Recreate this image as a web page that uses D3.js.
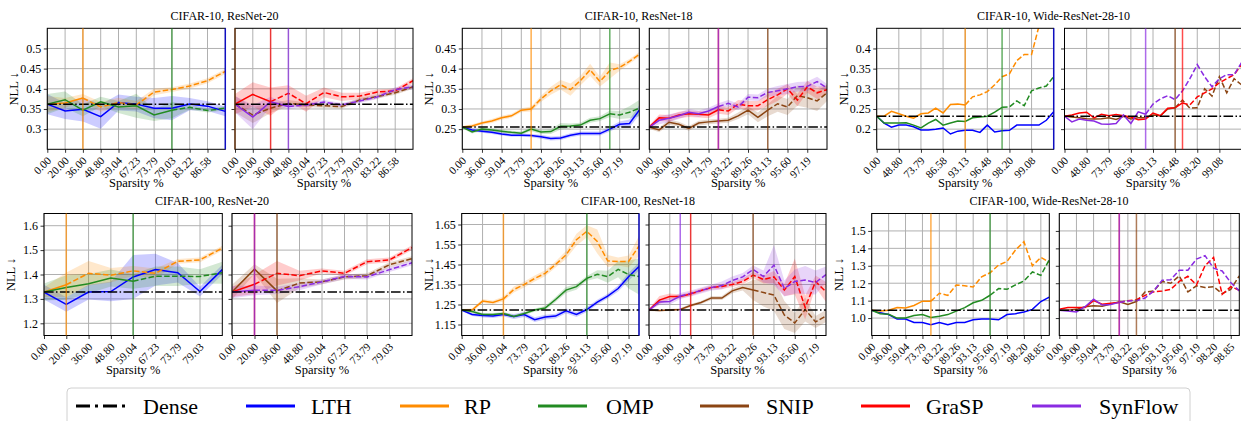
<!DOCTYPE html>
<html>
<head>
<meta charset="utf-8">
<script src="https://cdn.jsdelivr.net/npm/d3@7"></script>
<style>
  body { margin: 0; background: #fff; }
  svg text { font-family: "Liberation Serif", "DejaVu Serif", serif !important; fill: #000; }
</style>
</head>
<body>
<div id="chart"></div>
<script>
/* methods */
var methods = ["LTH", "RP", "OMP", "SNIP", "GraSP", "SynFlow"];
var colors = {LTH: "#0000ff", RP: "#ff8c00", OMP: "#228b22", SNIP: "#8b4513", GraSP: "#ff0000", SynFlow: "#8a2be2"};

/* CIFAR-10, ResNet-20 */
var c10r20Ticks = ["0.00","20.00","36.00","48.80","59.04","67.23","73.79","79.03","83.22","86.58"];
var c10r20Dense = 0.362;
var c10r20LTH     = [0.362,0.345,0.349,0.331,0.366,0.362,0.352,0.352,0.362,0.357,0.344];
var c10r20LTHsd   = [0.025,0.02,0.03,0.03,0.02,0.018,0.025,0.03,0.015,0.012,0.012];
var c10r20RP      = [0.362,0.365,0.377,0.355,0.366,0.36,0.392,0.398,0.407,0.42,0.443];
var c10r20RPsd    = [0.02,0.012,0.01,0.012,0.012,0.01,0.008,0.006,0.006,0.006,0.006];
var c10r20OMP     = [0.362,0.373,0.347,0.368,0.355,0.358,0.335,0.347,0.354,0.346,0.352];
var c10r20OMPsd   = [0.025,0.02,0.015,0.012,0.015,0.03,0.015,0.02,0.006,0.005,0.005];
var c10r20SNIP    = [0.362,0.335,0.352,0.364,0.36,0.358,0.356,0.372,0.381,0.39,0.405];
var c10r20SNIPsd  = [0.02,0.02,0.012,0.008,0.006,0.005,0.005,0.005,0.005,0.005,0.005];
var c10r20GraSP   = [0.362,0.386,0.368,0.389,0.363,0.391,0.38,0.382,0.392,0.395,0.42];
var c10r20GraSPsd = [0.025,0.03,0.035,0.02,0.02,0.012,0.01,0.008,0.006,0.006,0.006];
var c10r20Syn     = [0.362,0.33,0.368,0.356,0.36,0.367,0.36,0.37,0.38,0.398,0.405];
var c10r20Synsd   = [0.02,0.03,0.012,0.006,0.005,0.005,0.005,0.005,0.005,0.006,0.006];
var c10r20Thr     = [10, 2, 7, 0, 2, 3];

/* CIFAR-10, ResNet-18 */
var c10r18Ticks = ["0.00","36.00","59.04","73.79","83.22","89.26","93.13","95.60","97.19"];
var c10r18Dense = 0.255;
var c10r18LTH     = [0.255,0.248,0.245,0.242,0.238,0.235,0.235,0.234,0.231,0.227,0.228,0.235,0.239,0.239,0.239,0.25,0.262,0.264,0.297];
var c10r18LTHsd   = [0.003,0.004,0.004,0.004,0.004,0.004,0.004,0.004,0.005,0.005,0.005,0.005,0.005,0.005,0.005,0.006,0.007,0.01,0.012];
var c10r18RP      = [0.255,0.258,0.265,0.27,0.278,0.283,0.297,0.3,0.325,0.345,0.36,0.348,0.37,0.397,0.368,0.395,0.403,0.418,0.435];
var c10r18RPsd    = [0.003,0.004,0.004,0.005,0.005,0.005,0.005,0.006,0.008,0.01,0.012,0.015,0.012,0.015,0.012,0.02,0.008,0.006,0.006];
var c10r18OMP     = [0.255,0.243,0.25,0.248,0.245,0.242,0.24,0.25,0.243,0.244,0.257,0.258,0.26,0.272,0.276,0.288,0.285,0.292,0.302];
var c10r18OMPsd   = [0.003,0.004,0.004,0.004,0.004,0.004,0.004,0.005,0.005,0.006,0.008,0.006,0.006,0.006,0.006,0.008,0.01,0.015,0.02];
var c10r18SNIP    = [0.255,0.248,0.267,0.262,0.252,0.265,0.268,0.27,0.272,0.283,0.297,0.279,0.297,0.313,0.305,0.333,0.328,0.32,0.34];
var c10r18SNIPsd  = [0.004,0.006,0.006,0.006,0.006,0.006,0.006,0.006,0.006,0.008,0.01,0.012,0.015,0.02,0.02,0.025,0.025,0.025,0.02];
var c10r18GraSP   = [0.255,0.278,0.277,0.285,0.288,0.287,0.285,0.298,0.295,0.312,0.308,0.308,0.323,0.335,0.35,0.322,0.355,0.34,0.348];
var c10r18GraSPsd = [0.004,0.008,0.008,0.008,0.008,0.008,0.008,0.01,0.01,0.01,0.012,0.012,0.015,0.015,0.012,0.015,0.015,0.015,0.01];
var c10r18Syn     = [0.255,0.272,0.277,0.283,0.292,0.288,0.295,0.306,0.314,0.305,0.329,0.328,0.341,0.345,0.35,0.355,0.356,0.368,0.352];
var c10r18Synsd   = [0.004,0.01,0.01,0.008,0.008,0.008,0.008,0.008,0.008,0.008,0.008,0.008,0.01,0.012,0.012,0.012,0.012,0.012,0.01];
var c10r18Thr     = [null, 7, 15, 12, 7, 7];

/* CIFAR-10, Wide-ResNet-28-10 */
var c10wrnTicks = ["0.00","48.80","73.79","86.58","93.13","96.48","98.20","99.08"];
var c10wrnDense = 0.232;
var c10wrnLTH   = [0.232,0.215,0.205,0.21,0.21,0.206,0.198,0.198,0.2,0.203,0.188,0.195,0.197,0.197,0.192,0.21,0.193,0.196,0.197,0.21,0.21,0.21,0.21,0.222,0.243];
var c10wrnRP    = [0.232,0.232,0.244,0.238,0.232,0.227,0.238,0.24,0.252,0.24,0.261,0.262,0.26,0.28,0.285,0.293,0.31,0.33,0.337,0.37,0.385,0.385,0.455,0.52,0.58];
var c10wrnOMP   = [0.232,0.215,0.215,0.215,0.216,0.21,0.203,0.215,0.224,0.21,0.215,0.22,0.219,0.228,0.23,0.232,0.242,0.254,0.255,0.27,0.258,0.295,0.302,0.307,0.33];
var c10wrnSNIP  = [0.232,0.23,0.228,0.226,0.225,0.226,0.228,0.224,0.232,0.225,0.228,0.228,0.235,0.233,0.25,0.253,0.272,0.252,0.253,0.3,0.282,0.33,0.29,0.325,0.31];
var c10wrnGraSP = [0.232,0.235,0.24,0.242,0.228,0.237,0.233,0.236,0.233,0.23,0.223,0.225,0.24,0.233,0.252,0.253,0.265,0.26,0.28,0.29,0.3,0.315,0.325,0.335,0.36];
var c10wrnSyn   = [0.232,0.218,0.225,0.222,0.22,0.213,0.212,0.214,0.235,0.214,0.243,0.237,0.262,0.275,0.283,0.273,0.295,0.325,0.36,0.33,0.305,0.325,0.335,0.335,0.365];
var c10wrnThr   = [24, 12, 17, 15, 16, 11];

/* CIFAR-100, ResNet-20 */
var c100r20Ticks = ["0.00","20.00","36.00","48.80","59.04","67.23","73.79","79.03"];
var c100r20Dense = 1.328;
var c100r20LTH     = [1.328,1.277,1.328,1.33,1.39,1.42,1.407,1.33,1.42];
var c100r20LTHsd   = [0.03,0.03,0.03,0.04,0.09,0.065,0.04,0.02,0.02];
var c100r20RP      = [1.328,1.358,1.405,1.397,1.415,1.405,1.454,1.46,1.508];
var c100r20RPsd    = [0.02,0.05,0.05,0.03,0.02,0.02,0.01,0.01,0.01];
var c100r20OMP     = [1.328,1.347,1.362,1.386,1.372,1.393,1.393,1.392,1.407];
var c100r20OMPsd   = [0.035,0.05,0.04,0.035,0.03,0.04,0.04,0.03,0.045];
var c100r20SNIP    = [1.328,1.422,1.333,1.365,1.37,1.39,1.395,1.44,1.465];
var c100r20SNIPsd  = [0.03,0.02,0.05,0.02,0.01,0.01,0.01,0.01,0.01];
var c100r20GraSP   = [1.328,1.36,1.405,1.395,1.415,1.405,1.452,1.46,1.51];
var c100r20GraSPsd = [0.02,0.04,0.05,0.02,0.01,0.01,0.01,0.01,0.01];
var c100r20Syn     = [1.328,1.335,1.335,1.35,1.37,1.392,1.39,1.42,1.448];
var c100r20Synsd   = [0.025,0.02,0.015,0.015,0.01,0.01,0.01,0.01,0.01];
var c100r20Thr     = [null, 1, 4, 2, 1, 1];

/* CIFAR-100, ResNet-18 */
var c100r18Ticks = ["0.00","36.00","59.04","73.79","83.22","89.26","93.13","95.60","97.19"];
var c100r18Dense = 1.222;
var c100r18LTH     = [1.222,1.2,1.195,1.192,1.2,1.19,1.2,1.174,1.187,1.192,1.218,1.2,1.225,1.262,1.292,1.33,1.389,1.44];
var c100r18LTHsd   = [0.005,0.008,0.01,0.01,0.01,0.012,0.012,0.012,0.012,0.012,0.012,0.012,0.012,0.012,0.012,0.015,0.02,0.02];
var c100r18RP      = [1.222,1.222,1.267,1.26,1.278,1.325,1.35,1.38,1.406,1.45,1.498,1.574,1.616,1.565,1.468,1.465,1.465,1.543];
var c100r18RPsd    = [0.005,0.008,0.01,0.01,0.012,0.015,0.015,0.015,0.015,0.015,0.02,0.03,0.03,0.06,0.03,0.02,0.03,0.05];
var c100r18OMP     = [1.222,1.215,1.2,1.2,1.205,1.19,1.205,1.222,1.232,1.275,1.322,1.339,1.381,1.401,1.389,1.426,1.4,1.39];
var c100r18OMPsd   = [0.005,0.008,0.008,0.008,0.008,0.008,0.008,0.008,0.01,0.012,0.015,0.015,0.012,0.02,0.03,0.04,0.07,0.09];
var c100r18SNIP    = [1.222,1.22,1.222,1.225,1.245,1.26,1.283,1.282,1.318,1.335,1.322,1.31,1.297,1.197,1.158,1.225,1.163,1.193];
var c100r18SNIPsd  = [0.005,0.005,0.005,0.006,0.008,0.008,0.01,0.01,0.012,0.015,0.05,0.07,0.08,0.07,0.05,0.06,0.03,0.03];
var c100r18GraSP   = [1.222,1.272,1.29,1.29,1.303,1.32,1.335,1.34,1.35,1.365,1.397,1.375,1.388,1.322,1.39,1.235,1.365,1.313];
var c100r18GraSPsd = [0.005,0.02,0.015,0.01,0.01,0.01,0.01,0.012,0.012,0.015,0.015,0.02,0.03,0.03,0.09,0.06,0.03,0.05];
var c100r18Syn     = [1.222,1.263,1.265,1.292,1.305,1.32,1.335,1.345,1.37,1.388,1.425,1.39,1.447,1.33,1.365,1.372,1.36,1.4];
var c100r18Synsd   = [0.005,0.015,0.015,0.015,0.015,0.015,0.015,0.02,0.02,0.02,0.02,0.03,0.1,0.04,0.06,0.07,0.06,0.04];
var c100r18Thr     = [17, 4, 12, 10, 4, 3];

/* CIFAR-100, Wide-ResNet-28-10 */
var c100wrnTicks = ["0.00","36.00","59.04","73.79","83.22","89.26","93.13","95.60","97.19","98.20","98.85"];
var c100wrnDense = 1.045;
var c100wrnLTH   = [1.045,1.03,1.02,0.994,0.995,0.975,0.975,0.962,0.975,0.962,0.975,0.975,0.99,0.995,0.995,0.99,1.02,1.025,1.035,1.05,1.095,1.12];
var c100wrnRP    = [1.045,1.04,1.045,1.06,1.058,1.072,1.097,1.097,1.142,1.13,1.19,1.185,1.178,1.237,1.26,1.304,1.325,1.39,1.438,1.3,1.348,1.32];
var c100wrnOMP   = [1.045,1.025,1.022,1.0,1.0,1.015,1.02,1.003,1.01,1.02,1.04,1.06,1.088,1.102,1.131,1.169,1.165,1.19,1.213,1.265,1.245,1.335];
var c100wrnSNIP  = [1.045,1.045,1.05,1.065,1.07,1.068,1.08,1.093,1.078,1.095,1.15,1.155,1.21,1.2,1.242,1.15,1.185,1.175,1.18,1.14,1.165,1.242];
var c100wrnGraSP = [1.05,1.06,1.06,1.06,1.1,1.08,1.085,1.09,1.1,1.105,1.13,1.15,1.155,1.165,1.21,1.24,1.19,1.3,1.348,1.136,1.18,1.16];
var c100wrnSyn   = [1.045,1.04,1.035,1.065,1.108,1.075,1.078,1.09,1.098,1.1,1.115,1.155,1.217,1.22,1.275,1.275,1.338,1.358,1.286,1.27,1.204,1.156];
var c100wrnThr   = [null, 7, 14, 9, 7, 7];

var legendNames = ["Dense", "LTH", "RP", "OMP", "SNIP", "GraSP", "SynFlow"];

/* panel groups */
var groups = [
  {title: "CIFAR-10, ResNet-20", ticks: c10r20Ticks, step: 1, dense: c10r20Dense, thr: c10r20Thr,
   means: [c10r20LTH, c10r20RP, c10r20OMP, c10r20SNIP, c10r20GraSP, c10r20Syn],
   sds: [c10r20LTHsd, c10r20RPsd, c10r20OMPsd, c10r20SNIPsd, c10r20GraSPsd, c10r20Synsd],
   yDomain: [0.25, 0.55], yTicks: [0.3, 0.35, 0.4, 0.45, 0.5], yFmt: String,
   rows: [28.3, 149.3], boxes: [[47.3, 225.3], [235, 413]], titleX: 224.5},
  {title: "CIFAR-10, ResNet-18", ticks: c10r18Ticks, step: 2, dense: c10r18Dense, thr: c10r18Thr,
   means: [c10r18LTH, c10r18RP, c10r18OMP, c10r18SNIP, c10r18GraSP, c10r18Syn],
   sds: [c10r18LTHsd, c10r18RPsd, c10r18OMPsd, c10r18SNIPsd, c10r18GraSPsd, c10r18Synsd],
   yDomain: [0.2, 0.5], yTicks: [0.25, 0.3, 0.35, 0.4, 0.45], yFmt: String,
   rows: [28.3, 149.3], boxes: [[462.3, 639.3], [649.3, 827]], titleX: 638.6},
  {title: "CIFAR-10, Wide-ResNet-28-10", ticks: c10wrnTicks, step: 3, dense: c10wrnDense, thr: c10wrnThr,
   means: [c10wrnLTH, c10wrnRP, c10wrnOMP, c10wrnSNIP, c10wrnGraSP, c10wrnSyn],
   sds: null,
   yDomain: [0.15, 0.45], yTicks: [0.2, 0.25, 0.3, 0.35, 0.4], yFmt: String,
   rows: [28.3, 149.3], boxes: [[876.7, 1053.7], [1064.5, 1241.5]], titleX: 1053.5},
  {title: "CIFAR-100, ResNet-20", ticks: c100r20Ticks, step: 1, dense: c100r20Dense, thr: c100r20Thr,
   means: [c100r20LTH, c100r20RP, c100r20OMP, c100r20SNIP, c100r20GraSP, c100r20Syn],
   sds: [c100r20LTHsd, c100r20RPsd, c100r20OMPsd, c100r20SNIPsd, c100r20GraSPsd, c100r20Synsd],
   yDomain: [1.15, 1.65], yTicks: [1.2, 1.3, 1.4, 1.5, 1.6], yFmt: d3.format(".1f"),
   rows: [213.5, 335.5], boxes: [[44, 222.3], [232, 412]], titleX: 212},
  {title: "CIFAR-100, ResNet-18", ticks: c100r18Ticks, step: 2, dense: c100r18Dense, thr: c100r18Thr,
   means: [c100r18LTH, c100r18RP, c100r18OMP, c100r18SNIP, c100r18GraSP, c100r18Syn],
   sds: [c100r18LTHsd, c100r18RPsd, c100r18OMPsd, c100r18SNIPsd, c100r18GraSPsd, c100r18Synsd],
   yDomain: [1.095, 1.705], yTicks: [1.15, 1.25, 1.35, 1.45, 1.55, 1.65], yFmt: d3.format(".2f"),
   rows: [213.5, 335.5], boxes: [[461.7, 639], [649, 826]], titleX: 638},
  {title: "CIFAR-100, Wide-ResNet-28-10", ticks: c100wrnTicks, step: 2, dense: c100wrnDense, thr: c100wrnThr,
   means: [c100wrnLTH, c100wrnRP, c100wrnOMP, c100wrnSNIP, c100wrnGraSP, c100wrnSyn],
   sds: null,
   yDomain: [0.9, 1.6], yTicks: [1.0, 1.1, 1.2, 1.3, 1.4, 1.5], yFmt: d3.format(".1f"),
   rows: [213.5, 335.5], boxes: [[871.7, 1049.3], [1059.3, 1239.3]], titleX: 1049}
];

var width = 1241, height = 421;
var svg = d3.select("#chart").append("svg")
            .attr("width", width)
            .attr("height", height);

var FONT = "'Liberation Serif', 'DejaVu Serif', serif";
var clipCount = 0;

function drawSub(group, side) {
  var xr = group.boxes[side];
  var yr = group.rows;
  var n = group.means[0].length;
  var x = d3.scaleLinear().domain([0, n - 1]).range(xr);
  var y = d3.scaleLinear().domain(group.yDomain).range([yr[1], yr[0]]);
  var tickIdx = group.ticks.map(function(t, i) { return i * group.step; });

  var g = svg.append("g");
  var cid = "clip" + (clipCount++);
  g.append("clipPath").attr("id", cid)
    .append("rect")
    .attr("x", xr[0]).attr("y", yr[0])
    .attr("width", xr[1] - xr[0]).attr("height", yr[1] - yr[0]);

  // grid
  g.selectAll(".vg").data(tickIdx).enter().append("line")
    .attr("x1", function(d) { return x(d); }).attr("x2", function(d) { return x(d); })
    .attr("y1", yr[0]).attr("y2", yr[1])
    .style("stroke", "#b0b0b0").style("stroke-width", 1);
  g.selectAll(".hg").data(group.yTicks).enter().append("line")
    .attr("x1", xr[0]).attr("x2", xr[1])
    .attr("y1", function(d) { return y(d); }).attr("y2", function(d) { return y(d); })
    .style("stroke", "#b0b0b0").style("stroke-width", 1);

  var plot = g.append("g").attr("clip-path", "url(#" + cid + ")");
  var idxs = side === 0 ? [0, 1, 2] : [3, 4, 5];

  // bands
  if (group.sds) {
    idxs.forEach(function(m) {
      var mean = group.means[m], sd = group.sds[m];
      var area = d3.area()
        .x(function(d, i) { return x(i); })
        .y0(function(d, i) { return y(mean[i] - sd[i]); })
        .y1(function(d, i) { return y(mean[i] + sd[i]); });
      plot.append("path").datum(mean)
        .attr("d", area)
        .style("fill", colors[methods[m]])
        .style("fill-opacity", 0.2)
        .style("stroke", "none");
    });
  }

  // lines: solid up to threshold, dashed after
  var line = d3.line().x(function(d) { return x(d.k); }).y(function(d) { return y(d.v); });
  idxs.forEach(function(m) {
    var pts = group.means[m].map(function(v, k) { return {k: k, v: v}; });
    var t = group.thr[m];
    var solid = t === null ? pts : pts.filter(function(d) { return d.k <= t; });
    var dashed = t === null ? [] : pts.filter(function(d) { return d.k >= t; });
    if (solid.length > 1) {
      plot.append("path").datum(solid).attr("d", line)
        .style("fill", "none").style("stroke", colors[methods[m]]).style("stroke-width", 1.5);
    }
    if (dashed.length > 1) {
      plot.append("path").datum(dashed).attr("d", line)
        .style("fill", "none").style("stroke", colors[methods[m]]).style("stroke-width", 1.5)
        .style("stroke-dasharray", "5.5,2.4");
    }
  });

  // dense
  plot.append("line")
    .attr("x1", xr[0]).attr("x2", xr[1])
    .attr("y1", y(group.dense)).attr("y2", y(group.dense))
    .style("stroke", "#000").style("stroke-width", 1.5)
    .style("stroke-dasharray", "9.6,2.4,1.5,2.4");

  // axes
  var xAxis = g.append("g").attr("transform", "translate(0," + yr[1] + ")")
    .call(d3.axisBottom(x).tickValues(tickIdx)
      .tickFormat(function(d, i) { return group.ticks[i]; })
      .tickSize(3.5).tickSizeOuter(0));
  xAxis.attr("font-family", FONT).attr("font-size", 11);
  xAxis.select(".domain").remove();
  xAxis.selectAll("line").style("stroke", "#000").style("stroke-width", 0.8);
  xAxis.selectAll("text")
    .attr("x", 0).attr("y", 0).attr("dy", 0)
    .attr("text-anchor", "end")
    .attr("transform", "translate(4,12) rotate(-45)");

  var yAxis = g.append("g").attr("transform", "translate(" + xr[0] + ",0)")
    .call(d3.axisLeft(y).tickValues(group.yTicks)
      .tickFormat(side === 0 ? group.yFmt : function() { return ""; })
      .tickSize(3.5).tickSizeOuter(0));
  yAxis.attr("font-family", FONT).attr("font-size", 12);
  yAxis.select(".domain").remove();
  yAxis.selectAll("line").style("stroke", "#000").style("stroke-width", 0.8);
  yAxis.selectAll("text").attr("x", -6);

  // spine
  g.append("rect")
    .attr("x", xr[0]).attr("y", yr[0])
    .attr("width", xr[1] - xr[0]).attr("height", yr[1] - yr[0])
    .style("fill", "none").style("stroke", "#000").style("stroke-width", 1);

  // threshold lines
  idxs.forEach(function(m) {
    var t = group.thr[m];
    if (t === null) return;
    g.append("line")
      .attr("x1", x(t)).attr("x2", x(t))
      .attr("y1", yr[0]).attr("y2", yr[1])
      .style("stroke", colors[methods[m]])
      .style("stroke-opacity", 0.7)
      .style("stroke-width", 1.5);
  });

  // labels
  g.append("text")
    .attr("x", (xr[0] + xr[1]) / 2).attr("y", yr[1] + 38)
    .attr("text-anchor", "middle")
    .style("font-family", FONT)
    .style("font-size", "12.5px")
    .text("Sparsity %");

  if (side === 0) {
    var cy = (yr[0] + yr[1]) / 2;
    g.append("text")
      .attr("transform", "translate(" + (xr[0] - 29) + "," + cy + ") rotate(-90)")
      .attr("text-anchor", "middle")
      .style("font-family", FONT)
      .style("font-size", "12.5px")
      .text("NLL  \u2193");
  }
}

groups.forEach(function(group) {
  drawSub(group, 0);
  drawSub(group, 1);
  svg.append("text")
    .attr("x", group.titleX).attr("y", group.rows[0] - 8.5)
    .attr("text-anchor", "middle")
    .style("font-family", FONT)
    .style("font-size", "12px")
    .text(group.title);
});

// legend
var legendLineX = [76, 246, 400, 538, 700, 861, 1032];
var legendTextX = [143, 311, 464, 606, 766, 926, 1099];
var lg = svg.append("g");
lg.append("rect")
  .attr("x", 67).attr("y", 388).attr("width", 1123).attr("height", 45)
  .attr("rx", 4)
  .style("fill", "#fff").style("stroke", "#d0d0d0").style("stroke-width", 1);
legendNames.forEach(function(name, i) {
  lg.append("line")
    .attr("x1", legendLineX[i]).attr("x2", legendLineX[i] + 49)
    .attr("y1", 406).attr("y2", 406)
    .style("stroke", i === 0 ? "#000" : colors[name])
    .style("stroke-width", 3)
    .style("stroke-dasharray", i === 0 ? "14,5,3,5" : null);
  lg.append("text")
    .attr("x", legendTextX[i]).attr("y", 414)
    .style("font-family", FONT)
    .style("font-size", "22px")
    .text(name);
});
</script>
</body>
</html>
